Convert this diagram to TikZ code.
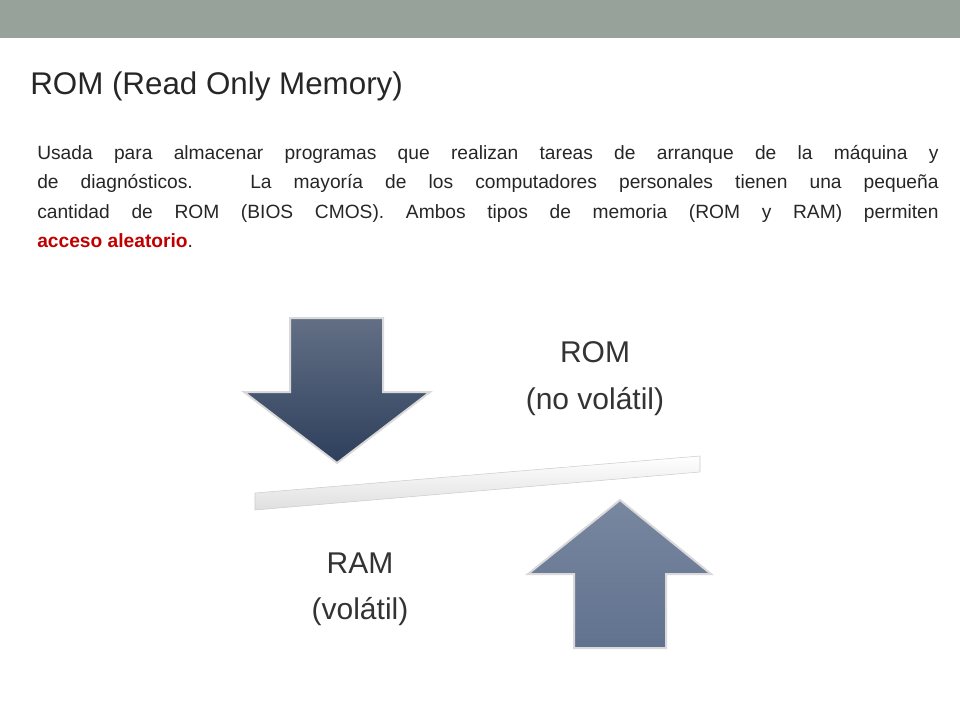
\documentclass[tikz,border=0pt]{standalone}
\usepackage{fontspec}
\setmainfont{Liberation Sans}
\definecolor{barc}{HTML}{97A39A}
\definecolor{darkar}{HTML}{2E3F5C}
\definecolor{lightar}{HTML}{61728F}
\definecolor{redt}{HTML}{C00000}
\begin{document}
\begin{tikzpicture}[x=0.75pt,y=-0.75pt,
  arr/.style={draw=white!70!gray,line width=1.5pt,line join=miter},
  big/.style={font=\fontsize{22.5}{26}\selectfont,text=black!80}]
\useasboundingbox (0,0) rectangle (960,720);
\fill[barc] (0,0) rectangle (960,38);
\node[anchor=base west,inner sep=0,font=\fontsize{23.5}{27}\selectfont,text=black!85] (title) at (30,95) {ROM (Read Only Memory)};
\node[anchor=north west,inner sep=0,text width=676pt,align=justify,font=\fontsize{14.4}{22}\selectfont,text=black!85] (para) at (37,145)
{Usada para almacenar programas que realizan tareas de arranque de la máquina y\linebreak de diagnósticos. La mayoría de los computadores personales tienen una pequeña\linebreak cantidad de ROM (BIOS CMOS). Ambos tipos de memoria (ROM y RAM) permiten\linebreak {\color{redt}\bfseries acceso aleatorio}.};
% down arrow
\path[arr,top color=darkar!75!white,bottom color=darkar] (290,318) -- (383,318) -- (383,392) -- (430,392) -- (337,463) -- (244,392) -- (290,392) -- cycle;
% up arrow
\path[arr,top color=lightar!85!white,bottom color=lightar] (620,500) -- (711,574) -- (666,574) -- (666,648) -- (574,648) -- (574,574) -- (528,574) -- cycle;
% lever bar
\path[draw=gray!40,top color=white,bottom color=gray!25] (255,493) -- (700,456) -- (700,472) -- (255,510) -- cycle;
\node[big] (rom) at (595,352) {ROM};
\node[big] (romv) at (595,402) {(no volátil)};
\node[big] (ram) at (360,563) {RAM};
\node[big] (ramv) at (360,612) {(volátil)};
\end{tikzpicture}
\end{document}
